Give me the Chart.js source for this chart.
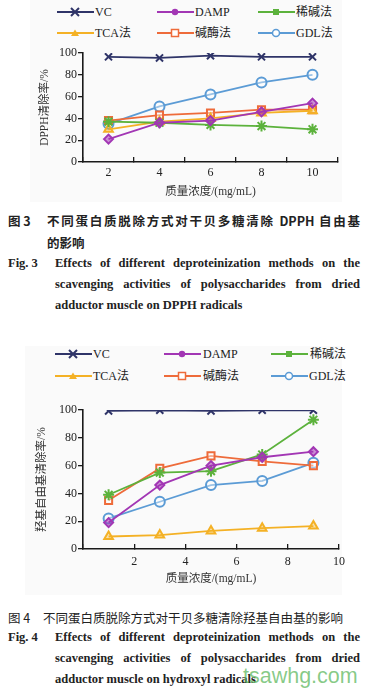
<!DOCTYPE html>
<html>
<head>
<meta charset="utf-8">
<script src="https://cdn.jsdelivr.net/npm/chart.js@4.4.0/dist/chart.umd.min.js"></script>
<style>
  body { margin: 0; width: 368px; height: 692px; background: #fff; position: relative; overflow: hidden;
         font-family: "Liberation Serif", "Noto Sans CJK SC", serif; color: #222; }
  .panel { position: absolute; background: #fafafa; }
  canvas { position: absolute; left: 0; }
  .lg { position: absolute; font-size: 12px; white-space: nowrap; line-height: 14px; height: 14px; }
  .lg svg { position: absolute; top: 2px; }
  .cap { position: absolute; white-space: nowrap; }
  .just { text-align: justify; text-align-last: justify; }
  .zh3 { font-family: "Noto Sans CJK SC", sans-serif; font-weight: bold; font-size: 12.5px; }
  .zh4 { font-family: "Noto Sans CJK SC", sans-serif; font-size: 12.5px; }
  .en { font-family: "Liberation Serif", serif; font-weight: bold; font-size: 12.5px; }
  .wm { position: absolute; left: 243px; top: 664px; font-family: "Liberation Sans", sans-serif;
        font-size: 21.5px; color: rgba(95,185,95,0.75); }
</style>
</head>
<body>

<div class="panel" style="left:30px;top:0;width:312px;height:202px"></div>
<div class="panel" style="left:25px;top:346px;width:317px;height:249px"></div>

<div id="legend1"></div>
<div id="legend2"></div>

<canvas id="grafico_dpph" width="368" height="165" style="top:40px"></canvas>
<canvas id="grafico_oh" width="368" height="200" style="top:395px"></canvas>

<!-- legendas das figuras -->
<div class="cap zh3" style="left:8px;top:211px">图 3</div>
<div class="cap zh3 just" style="left:47px;top:211px;width:313px">不同蛋白质脱除方式对干贝多糖清除 DPPH 自由基</div>
<div class="cap zh3" style="left:47px;top:233px">的影响</div>
<div class="cap en" style="left:8px;top:256px">Fig. 3</div>
<div class="cap en just" style="left:55px;top:256px;width:305px">Effects of different deproteinization methods on the</div>
<div class="cap en just" style="left:55px;top:277px;width:305px">scavenging activities of polysaccharides from dried</div>
<div class="cap en" style="left:55px;top:298px">adductor muscle on DPPH radicals</div>

<div class="cap zh4" style="left:8px;top:608px">图 4</div>
<div class="cap zh4" style="left:43px;top:608px">不同蛋白质脱除方式对干贝多糖清除羟基自由基的影响</div>
<div class="cap en" style="left:8px;top:630px">Fig. 4</div>
<div class="cap en just" style="left:55px;top:630px;width:305px">Effects of different deproteinization methods on the</div>
<div class="cap en just" style="left:55px;top:651px;width:305px">scavenging activities of polysaccharides from dried</div>
<div class="cap en" style="left:55px;top:672px">adductor muscle on hydroxyl radicals</div>
<div class="wm">tsawhg.com</div>

<script>
// series
const seriesNames = ['VC', 'DAMP', '稀碱法', 'TCA法', '碱酶法', 'GDL法'];

// Fig. 3 - DPPH (mg/mL = 2,4,6,8,10)
const xLabelsDpph = ['2', '4', '6', '8', '10'];
const vcDpph = [96.5, 95.5, 97.5, 96.5, 96.5];
const dampDpph = [21, 36, 38, 46, 54];
const xijianDpph = [37, 36, 34, 33, 30];
const tcaDpph = [30, 37, 40, 45, 47];
const jianmeiDpph = [38, 43, 45, 48, 48];
const gdlDpph = [35, 51, 62, 73, 80];

// Fig. 4 - hidroxila (x = 1,3,5,7,9)
const xOh = [1, 3, 5, 7, 9];
const vcOh = [99.3, 99.8, 99.3, 99.8, 99.8];
const dampOh = [19, 46, 60, 66, 70];
const xijianOh = [39, 55, 56, 68, 93];
const tcaOh = [9, 10, 13, 15, 16.5];
const jianmeiOh = [35, 58, 67, 63, 60];
const gdlOh = [22, 34, 46, 49, 62];

const yTicks = [0, 20, 40, 60, 80, 100];

// estilo
const cores = ['#2f3468', '#a236b4', '#5cb23c', '#f4b125', '#ee6b3a', '#5b9bd5'];
const pontos = ['crossRot', 'rectRot', 'star', 'triangle', 'rect', 'circle'];
const raios = [5, 4.5, 5.5, 5, 5, 5];
const fundos = ['#2f3468', 'rgba(162,54,180,0.55)', 'rgba(92,178,60,0.3)',
                'rgba(244,177,37,0.35)', 'rgba(255,255,255,0.45)', 'rgba(255,255,255,0.4)'];

function montarDatasets(valores, xs) {
    return seriesNames.map(function (nome, i) {
        return {
            label: nome,
            data: xs ? valores[i].map((v, k) => ({ x: xs[k], y: v })) : valores[i],
            borderColor: cores[i],
            backgroundColor: fundos[i],
            pointStyle: pontos[i],
            pointRadius: raios[i],
            pointBorderWidth: 2,
            pointBorderColor: cores[i],
            pointBackgroundColor: fundos[i],
            borderWidth: 1.8,
            tension: 0
        };
    });
}

function legenda(id, itens) {
    var div = document.getElementById(id);
    var html = '';
    itens.forEach(function (it) {
        var i = it.i, c = cores[i], mx = 18, m = '';
        if (i == 0) m = `<path d="M${mx-4} 1 L${mx+4} 9 M${mx+4} 1 L${mx-4} 9" stroke="${c}" stroke-width="2"/>`;
        if (i == 1) m = `<circle cx="${mx}" cy="5" r="3.2" fill="${c}"/>`;
        if (i == 2) m = `<rect x="${mx-3}" y="2" width="6" height="6" fill="${c}"/>`;
        if (i == 3) m = `<path d="M${mx} 1.5 L${mx+4} 8 L${mx-4} 8 Z" fill="${c}"/>`;
        if (i == 4) m = `<rect x="${mx-3.5}" y="1.5" width="7" height="7" fill="#fff" stroke="${c}" stroke-width="1.5"/>`;
        if (i == 5) m = `<circle cx="${mx}" cy="5" r="3.5" fill="#fff" stroke="${c}" stroke-width="1.5"/>`;
        html += `<div class="lg" style="left:${it.x}px;top:${it.y - 7}px">` +
            `<svg width="38" height="10" style="left:0"><line x1="0" y1="5" x2="37" y2="5" stroke="${c}" stroke-width="2"/>${m}</svg>` +
            `<span style="position:absolute;left:${it.t - it.x}px;top:0">${seriesNames[i]}</span></div>`;
    });
    div.innerHTML = html;
}

legenda('legend1', [
    { i: 0, x: 57, y: 12, t: 95 }, { i: 1, x: 157, y: 12, t: 195 }, { i: 2, x: 258, y: 12, t: 296 },
    { i: 3, x: 57, y: 33, t: 95 }, { i: 4, x: 157, y: 33, t: 195 }, { i: 5, x: 258, y: 33, t: 296 }
]);
legenda('legend2', [
    { i: 0, x: 55, y: 354, t: 93 }, { i: 1, x: 164, y: 354, t: 203 }, { i: 2, x: 271, y: 354, t: 310 },
    { i: 3, x: 55, y: 376, t: 93 }, { i: 4, x: 164, y: 376, t: 203 }, { i: 5, x: 271, y: 376, t: 309 }
]);

const fonteTick = { family: '"Liberation Serif", serif', size: 12 };
const fonteTitulo = { family: '"Liberation Serif", "Noto Sans CJK SC", serif', size: 11.5 };

function eixoY(titulo, largura) {
    return {
        min: 0, max: 100,
        afterBuildTicks: function (s) { s.ticks = yTicks.map(v => ({ value: v })); },
        afterFit: function (s) { s.width = largura; },
        border: { color: '#1a1a1a', width: 1.6 },
        grid: { drawOnChartArea: false, drawTicks: true, tickLength: 5, color: '#1a1a1a', lineWidth: 1.3 },
        ticks: { color: '#222', font: fonteTick, padding: 1 },
        title: { display: true, text: titulo, color: '#333', font: fonteTitulo, padding: { top: 0, bottom: 0 } }
    };
}

// Fig. 3
new Chart(document.getElementById('grafico_dpph'), {
    type: 'line',
    data: {
        labels: xLabelsDpph,
        datasets: montarDatasets([vcDpph, dampDpph, xijianDpph, tcaDpph, jianmeiDpph, gdlDpph])
    },
    options: {
        responsive: false,
        animation: false,
        layout: { padding: { left: 38, right: 30, top: 13, bottom: 0 } },
        plugins: { legend: { display: false }, tooltip: { enabled: false } },
        scales: {
            x: {
                type: 'category',
                offset: true,
                afterFit: function (s) { s.height = 43; },
                border: { color: '#1a1a1a', width: 1.6 },
                grid: { offset: true, drawOnChartArea: false, drawTicks: true, tickLength: -5, color: '#1a1a1a', lineWidth: 1.3 },
                ticks: { color: '#222', font: fonteTick, padding: 9, maxRotation: 0 },
                title: { display: true, text: '质量浓度/(mg/mL)', color: '#333', font: fonteTitulo, padding: { top: 0, bottom: 6 } }
            },
            y: eixoY('DPPH清除率/%', 45)
        }
    }
});

// Fig. 4
new Chart(document.getElementById('grafico_oh'), {
    type: 'line',
    data: {
        datasets: montarDatasets([vcOh, dampOh, xijianOh, tcaOh, jianmeiOh, gdlOh], xOh)
    },
    options: {
        responsive: false,
        animation: false,
        layout: { padding: { left: 35, right: 29, top: 15, bottom: 0 } },
        plugins: { legend: { display: false }, tooltip: { enabled: false } },
        scales: {
            x: {
                type: 'linear',
                min: 0, max: 10,
                afterFit: function (s) { s.height = 46; },
                border: { color: '#1a1a1a', width: 1.6 },
                grid: { drawOnChartArea: false, drawTicks: true, tickLength: -5, color: '#1a1a1a', lineWidth: 1.3 },
                ticks: { stepSize: 2, color: '#222', font: fonteTick, padding: 10.5, maxRotation: 0,
                         callback: function (v) { return v == 0 ? '' : v; } },
                title: { display: true, text: '质量浓度/(mg/mL)', color: '#333', font: fonteTitulo, padding: { top: 0, bottom: 9 } }
            },
            y: eixoY('羟基自由基清除率/%', 48)
        }
    }
});
</script>
</body>
</html>
